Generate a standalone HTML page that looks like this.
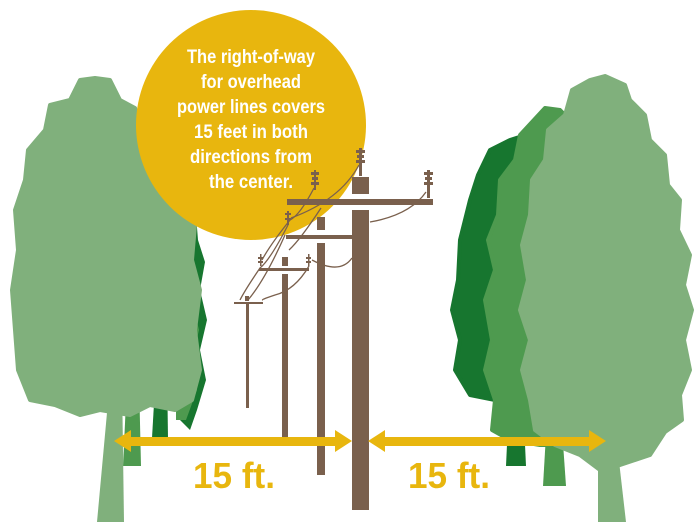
<!DOCTYPE html>
<html><head><meta charset="utf-8"><style>html,body{margin:0;padding:0;background:#fff}svg{display:block}</style></head>
<body>
<svg width="700" height="527" viewBox="0 0 700 527" xmlns="http://www.w3.org/2000/svg">
<!-- left back trees -->
<path d="M160 300 L166 300 L168 438 L152 438 Z" fill="#17762f"/>
<polygon points="183,205 196,215 198,240 205,262 200,290 207,320 200,350 206,380 197,410 190,430 180,420" fill="#17762f"/>
<polygon points="176,260 190,272 192,300 199,330 192,360 197,390 186,420 176,420" fill="#4e9a4f"/>
<path d="M127 380 L139 380 L141 466 L123 466 Z" fill="#4e9a4f"/>
<!-- left big tree -->
<path d="M110 380 L122 380 L124 522 L97 522 Z" fill="#80b07c"/>
<polygon stroke="#80b07c" stroke-width="4" stroke-linejoin="round" points="95,78 110,80 120,100 135,108 140,125 155,135 165,160 180,175 182,200 195,225 192,260 200,290 195,330 200,370 192,400 175,410 150,405 130,415 100,410 80,415 55,405 30,400 18,370 15,330 12,290 18,250 15,210 25,180 28,150 45,130 50,105 70,100 80,80" fill="#80b07c"/>
<!-- right trees -->
<path d="M510 380 L522 380 L526 466 L506 466 Z" fill="#17762f"/>
<polygon stroke="#17762f" stroke-width="4" stroke-linejoin="round" points="510,140 535,132 548,140 548,398 520,398 495,400 470,395 455,370 460,340 452,310 458,280 460,240 470,200 478,175 490,150" fill="#17762f"/>
<path d="M548 400 L560 400 L566 486 L543 486 Z" fill="#4e9a4f"/>
<polygon stroke="#4e9a4f" stroke-width="4" stroke-linejoin="round" points="545,108 560,110 575,125 590,445 540,445 510,440 492,430 495,400 485,370 492,340 485,300 495,270 488,240 498,215 500,180 515,160 520,135" fill="#4e9a4f"/>
<path d="M598 400 L612 400 L626 522 L598 522 Z" fill="#80b07c"/>
<polygon stroke="#80b07c" stroke-width="4" stroke-linejoin="round" points="605,76 625,85 630,100 645,115 650,140 665,155 668,185 680,200 678,230 690,255 684,285 692,310 684,340 690,370 680,395 682,420 665,432 650,455 620,465 600,470 580,455 555,445 535,430 530,400 522,370 530,340 520,310 528,280 522,245 530,215 532,180 545,160 548,130 565,115 572,90 590,80" fill="#80b07c"/>
<!-- yellow circle -->
<circle cx="251" cy="125" r="115" fill="#e8b60e"/>
<g fill="#fff" font-family="Liberation Sans, sans-serif" font-weight="bold" font-size="19" text-anchor="middle">
<text x="251" y="63" textLength="128" lengthAdjust="spacingAndGlyphs">The right-of-way</text>
<text x="251" y="88" textLength="100" lengthAdjust="spacingAndGlyphs">for overhead</text>
<text x="251" y="113" textLength="148" lengthAdjust="spacingAndGlyphs">power lines covers</text>
<text x="251" y="138" textLength="114" lengthAdjust="spacingAndGlyphs">15 feet in both</text>
<text x="251" y="163" textLength="122" lengthAdjust="spacingAndGlyphs">directions from</text>
<text x="251" y="188" textLength="84" lengthAdjust="spacingAndGlyphs">the center.</text>
</g>
<!-- poles -->
<g fill="#7a604d">
<rect x="246" y="302" width="3" height="106"/><rect x="234" y="302" width="29" height="2"/><rect x="245" y="296" width="4" height="5"/>
<rect x="282" y="274" width="6" height="163"/><rect x="259" y="268" width="50" height="3"/><rect x="282" y="257" width="6" height="9"/>
<rect x="317" y="243" width="8" height="232"/><rect x="286" y="235" width="66" height="4"/><rect x="317" y="217" width="8" height="13"/>
<rect x="352" y="210" width="17" height="300"/><rect x="287" y="199" width="146" height="6"/><rect x="352" y="177" width="17" height="17"/>
</g>
<g fill="#7a604d">
<rect x="356" y="150" width="9" height="3"/><rect x="357" y="155" width="7" height="3"/><rect x="356" y="160" width="9" height="3"/><rect x="359" y="148" width="3" height="28"/>
<rect x="424" y="172" width="9" height="3"/><rect x="425" y="177" width="7" height="3"/><rect x="424" y="182" width="9" height="3"/><rect x="427" y="170" width="3" height="28"/>
<rect x="311" y="172" width="8" height="3"/><rect x="312" y="177" width="6" height="3"/><rect x="311" y="182" width="8" height="3"/><rect x="314" y="170" width="2" height="20"/>
<rect x="285" y="213" width="6" height="2"/><rect x="285" y="218" width="6" height="2"/><rect x="287" y="211" width="2" height="14"/>
<rect x="258" y="257" width="5" height="2"/><rect x="258" y="261" width="5" height="2"/><rect x="260" y="254" width="1.5" height="12"/>
<rect x="306" y="257" width="5" height="2"/><rect x="306" y="261" width="5" height="2"/><rect x="308" y="254" width="1.5" height="12"/>
</g>
<g fill="none" stroke="#7a604d" stroke-width="1.3">
<path d="M359 165 Q340 200 291 218"/><path d="M426 192 Q410 215 370 222"/>
<path d="M314 188 Q300 215 290 220 Q270 245 262 260"/>
<path d="M321 208 Q300 240 289 250"/><path d="M352 258 Q340 275 312 260"/>
<path d="M288 225 Q270 260 260 268 Q245 290 240 300"/>
<path d="M309 266 Q295 290 275 295 Q260 300 263 300"/>
<path d="M285 235 Q265 280 248 300"/>
</g>
<!-- arrows -->
<g fill="#e8b60e">
<rect x="128" y="437" width="212" height="9"/><polygon points="114,441 131,430 131,452"/><polygon points="352,441 335,430 335,452"/>
<rect x="380" y="437" width="212" height="9"/><polygon points="368,441 385,430 385,452"/><polygon points="606,441 589,430 589,452"/>
<g font-family="Liberation Sans, sans-serif" font-weight="bold" font-size="36">
<text x="193" y="488" textLength="82" lengthAdjust="spacingAndGlyphs">15 ft.</text>
<text x="408" y="488" textLength="82" lengthAdjust="spacingAndGlyphs">15 ft.</text>
</g>
</g>
</svg>
</body></html>
